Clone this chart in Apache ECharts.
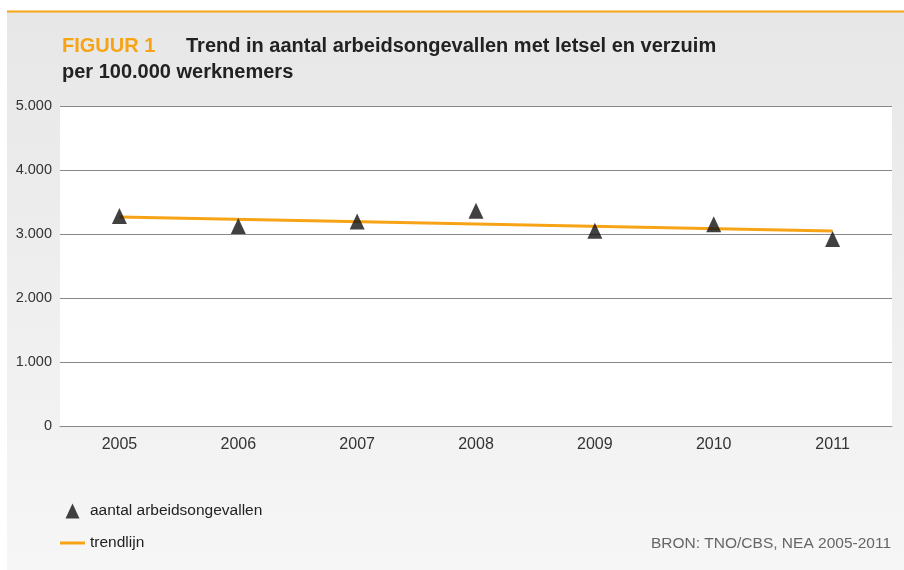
<!DOCTYPE html>
<html>
<head>
<meta charset="utf-8">
<script src="https://cdn.jsdelivr.net/npm/echarts@6/dist/echarts.min.js"></script>
<style>
html,body{margin:0;padding:0;background:#ffffff;}
#chart{width:904px;height:570px;}
</style>
</head>
<body>
<div id="chart"></div>
<script>
// Data
var years = ['2005', '2006', '2007', '2008', '2009', '2010', '2011'];
var accidents = [3281, 3125, 3195, 3363, 3050, 3152, 2922];
var trend = [3266, null, null, null, null, null, 3047];
var yTicks = [0, 1000, 2000, 3000, 4000, 5000];

var ORANGE = '#f6a316';
var FONT = '"Liberation Sans", Arial, sans-serif';

var chart = echarts.init(document.getElementById('chart'), null, {renderer: 'canvas'});
chart.setOption({
  animation: false,
  backgroundColor: '#ffffff',
  graphic: [
    {
      type: 'rect', z: -10, silent: true,
      shape: {x: 7, y: 12, width: 897, height: 558},
      style: {
        fill: new echarts.graphic.LinearGradient(0, 0, 0, 1, [
          {offset: 0, color: '#e7e7e7'},
          {offset: 1, color: '#f6f6f6'}
        ])
      }
    },
    {
      type: 'rect', z: -9, silent: true,
      shape: {x: 7, y: 10.5, width: 897, height: 2},
      style: {fill: ORANGE}
    }
  ],
  title: [
    {text: 'FIGUUR 1', left: 62, top: 36, padding: 0,
     textStyle: {color: ORANGE, fontSize: 20, fontWeight: 'bold', fontFamily: FONT}},
    {text: 'Trend in aantal arbeidsongevallen met letsel en verzuim', left: 186, top: 36, padding: 0,
     textStyle: {color: '#222', fontSize: 20, fontWeight: 'bold', fontFamily: FONT}},
    {text: 'per 100.000 werknemers', left: 62, top: 62, padding: 0,
     textStyle: {color: '#222', fontSize: 20, fontWeight: 'bold', fontFamily: FONT}},
    {text: 'BRON: TNO/CBS, NEA 2005-2011', right: 13, top: 536, padding: 0,
     textStyle: {color: '#666', fontSize: 15.5, fontWeight: 'normal', fontFamily: FONT}}
  ],
  legend: {
    orient: 'vertical',
    left: 60, top: 503, padding: 0,
    itemWidth: 25, itemHeight: 15, itemGap: 16,
    textStyle: {color: '#222', fontSize: 15.5, fontFamily: FONT, padding: [3, 0, 0, 0]},
    data: [
      {name: 'aantal arbeidsongevallen', icon: 'path://M7,0 L14,15 L0,15 Z'},
      {name: 'trendlijn', icon: 'path://M0,0 L25,0 L25,3 L0,3 Z'}
    ]
  },
  grid: {
    left: 60, right: 12, top: 106, bottom: 144,
    show: true, backgroundColor: '#ffffff', borderWidth: 0
  },
  xAxis: {
    type: 'category',
    data: years,
    boundaryGap: true,
    axisLine: {show: true, lineStyle: {color: '#888', width: 1}},
    axisTick: {show: false},
    axisLabel: {color: '#333', fontSize: 16, fontFamily: FONT, margin: 11}
  },
  yAxis: {
    type: 'value',
    min: yTicks[0], max: yTicks[yTicks.length - 1], interval: 1000,
    axisLine: {show: false},
    axisTick: {show: false},
    splitLine: {lineStyle: {color: '#888', width: 1}},
    axisLabel: {
      color: '#333', fontSize: 14.5, fontFamily: FONT, margin: 8,
      formatter: function (v) {
        return v === 0 ? '0' : (v / 1000).toFixed(0) + '.000';
      }
    }
  },
  series: [
    {
      name: 'trendlijn',
      type: 'line',
      data: trend,
      connectNulls: true,
      showSymbol: false,
      symbol: 'none',
      lineStyle: {color: ORANGE, width: 3},
      itemStyle: {color: ORANGE},
      z: 2
    },
    {
      name: 'aantal arbeidsongevallen',
      type: 'scatter',
      data: accidents,
      symbol: 'triangle',
      symbolSize: [15, 16],
      itemStyle: {color: '#111111'},
      z: 3
    }
  ]
});
</script>
</body>
</html>
